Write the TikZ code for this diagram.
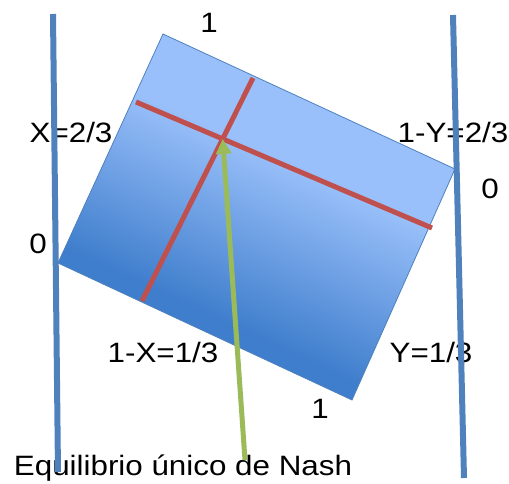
\documentclass[tikz,border=0pt]{standalone}
\usepackage{fontspec}
\setmainfont{Liberation Sans}
\usetikzlibrary{arrows.meta}
\definecolor{AxisBlue}{RGB}{79,129,189}
\definecolor{LightFill}{RGB}{153,192,250}
\definecolor{MidFill}{RGB}{110,160,228}
\definecolor{DarkFill}{RGB}{63,126,204}
\definecolor{RespRed}{RGB}{192,80,77}
\definecolor{NashGreen}{RGB}{155,187,89}
\pgfdeclareverticalshading{panelshade}{100bp}{color(0bp)=(DarkFill); color(29bp)=(DarkFill); color(46bp)=(MidFill); color(62bp)=(LightFill); color(100bp)=(LightFill)}

\tikzset{
  lbl/.style={anchor=base, inner sep=0pt, xscale=1.12, font=\fontsize{28}{30}\selectfont},
  axisline/.style={line width=6pt, AxisBlue},
  respline/.style={line width=5pt, RespRed},
}

\begin{document}
\begin{tikzpicture}[x=1pt, y=-1pt]
  \useasboundingbox (0,0) rectangle (509,484);

  % etiquetas
  \node[lbl] (topone) at (209,33) {1};
  \node[lbl] (xval) at (71,143) {X=2/3};
  \node[lbl] (oneminusy) at (453,143) {1-Y=2/3};
  \node[lbl] (rzero) at (490,198) {0};
  \node[lbl] (lzero) at (38,253) {0};
  \node[lbl] (oneminusx) at (163,362) {1-X=1/3};
  \node[lbl] (yval) at (431,362) {Y=1/3};
  \node[lbl] (botone) at (320,418) {1};
  \node[lbl] (nashlbl) at (183,475) {Equilibrio único de Nash};

  % cuadrado de estrategias
  \coordinate (sqT) at (163,34);
  \coordinate (sqR) at (455,169);
  \coordinate (sqB) at (352,400);
  \coordinate (sqL) at (58,263);
  \begin{scope}
    \clip (sqT) -- (sqR) -- (sqB) -- (sqL) -- cycle;
    \begin{scope}[transform canvas={shift={(58,263)}, rotate=-24.9}]
      \shade[shading=panelshade] (-4,4) rectangle (330,-256);
    \end{scope}
  \end{scope}
  \draw[AxisBlue, line width=0.8pt] (sqT) -- (sqR) -- (sqB) -- (sqL) -- cycle;

  % mejores respuestas
  \coordinate (rA1) at (136,102);
  \coordinate (rA2) at (432,228);
  \coordinate (rB1) at (253,78);
  \coordinate (rB2) at (142,301);
  \draw[respline] (rA1) -- (rA2);
  \draw[respline] (rB1) -- (rB2);
  \coordinate (nash) at (intersection of rA1--rA2 and rB1--rB2);

  % flecha al equilibrio
  \coordinate (arrowfoot) at (245,460);
  \draw[line width=5pt, NashGreen, -{Triangle[width=15pt,length=15pt]}] (arrowfoot) -- (nash);

  % ejes verticales
  \draw[axisline] (53,14) -- (58,472);
  \draw[axisline] (453,15) -- (464,478);
\end{tikzpicture}
\end{document}
